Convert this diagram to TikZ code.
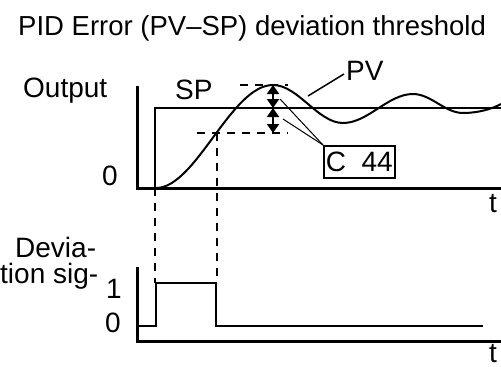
\documentclass[tikz,border=0pt]{standalone}
\usepackage{fontspec}
\setmainfont{Liberation Sans}
\usetikzlibrary{arrows.meta,positioning}
\tikzset{
  lbl/.style     = {inner sep=0pt, font=\fontsize{28}{32}\selectfont},
  ttl/.style     = {inner sep=0pt, font=\fontsize{27.5}{32}\selectfont},
  param/.style   = {rectangle, draw=black, line width=1.6pt, inner sep=2pt,
                    minimum height=32pt, font=\fontsize{28}{32}\selectfont},
  axis/.style    = {line width=3pt, black},
  sig/.style     = {line width=2pt, black},
  guide/.style   = {line width=2pt, dash pattern=on 8pt off 7pt, black},
  leader/.style  = {line width=1pt, black},
  dev/.style     = {{Triangle[length=9pt,width=12pt]}-{Triangle[length=9pt,width=12pt]},
                    line width=2pt, black},
}

\begin{document}
\begin{tikzpicture}[x=1pt, y=-1pt]
      \useasboundingbox (0,0) rectangle (501,367);

      \node[ttl, anchor=base west] (title) at (18,35) {PID Error (PV--SP) deviation threshold};

      % output chart
      \node[lbl, anchor=base west] (out)  at (23,97)  {Output};
      \node[lbl, anchor=base]      (zero) at (110,185) {0};
      \node[lbl, anchor=base west] (sp)   at (175,99)  {SP};
      \node[lbl, anchor=base west] (pv)   at (346,80)  {PV};
      \node[lbl, anchor=base]      (t1)   at (493,212) {t};

      \draw[axis] (137,86) -- (137,188) -- (501,188);
      \draw[sig] (155,188) -- (155,108) -- (501,108);
      \draw[sig] (156,188) .. controls (196,188) and (231,85) .. (273,85)
                 .. controls (298,85) and (318,123) .. (343,123)
                 .. controls (368,123) and (388,94) .. (413,94)
                 .. controls (431,94) and (445,113) .. (463,113)
                 .. controls (478,113) and (492,109) .. (501,104);

      \draw[guide] (240,85) -- (288,85);
      \draw[guide] (197,133) -- (288,133);
      \draw[guide] (217,133) -- (217,283);
      \draw[guide] (155,188) -- (155,283);

      \coordinate (hi)  at (273,85);
      \coordinate (mid) at (273,108);
      \coordinate (lo)  at (273,133);
      \draw[dev] (hi) -- (mid);
      \draw[dev] (mid) -- (lo);

      \node[param, anchor=north west] (c44) at (323,145) {C\ \ 44};
      \coordinate (tipup) at (280,99);
      \coordinate (tipdn) at (283,119);
      \draw[leader] (c44.north west) -- (tipup);
      \draw[leader] (c44.north west) -- (tipdn);

      \coordinate (pvtip) at (308,96);
      \draw[sig, line width=1.5pt] (pvtip) -- (344,74);

      % deviation signal chart
      \node[lbl, anchor=base west] (dev1) at (15,257) {Devia-};
      \node[lbl, anchor=base west] (dev2) at (0,283)  {tion sig-};
      \node[lbl, anchor=base]      (one)  at (114,298) {1};
      \node[lbl, anchor=base]      (nil)  at (113,332) {0};
      \node[lbl, anchor=base]      (t2)   at (493,362) {t};

      \draw[axis] (137,267) -- (137,341) -- (501,341);
      \draw[sig] (139,326) -- (156,326) -- (156,283) -- (216,283) -- (216,326) -- (483,326);

    \end{tikzpicture}
\end{document}
